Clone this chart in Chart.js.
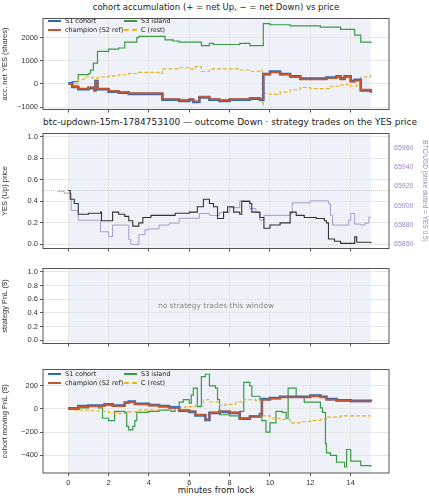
<!DOCTYPE html>
<html><head><meta charset="utf-8">
<script src="https://cdn.jsdelivr.net/npm/chart.js@4"></script>
<style>
body{margin:0;background:#fff;font-family:"DejaVu Sans",sans-serif;width:429px;height:500px;position:relative;overflow:hidden}
canvas{position:absolute;left:0}
.t{position:absolute;left:43px;width:346px;text-align:center;font-size:8.5px;color:#222;white-space:nowrap}
.lg{position:absolute;font-size:6.5px;color:#222;display:flex;align-items:center;white-space:nowrap}
.lg i{display:inline-block;width:13px;margin-right:4px;border-top:2px solid}
</style></head><body>
<div class="t" style="top:2px">cohort accumulation (+ = net Up, − = net Down) vs price</div>
<div class="t" style="top:117px;font-size:9px">btc-updown-15m-1784753100 — outcome Down · strategy trades on the YES price</div>
<div class="t" style="top:485px">minutes from lock</div>
<canvas id="c1" width="429" height="104" style="top:12px"></canvas>
<canvas id="c2" width="429" height="128" style="top:127px"></canvas>
<canvas id="c3" width="429" height="88" style="top:262px"></canvas>
<canvas id="c4" width="429" height="137" style="top:363px"></canvas>
<div id="legends"></div>
<script>
// panel 1: accumulated net YES shares
const accS3T = [0,0.2,0.5,1,1.1,1.25,1.45,2,2.5,2.8,3.4,3.5,4.8,5.2,5.5,6.6,7,7.2,8.5,9,9.67,10,11,12.5,13.5,14.2,14.5,15];
const accS3V = [0,100,400,450,600,900,1400,1500,1550,1800,2000,2050,1900,1850,1800,1650,1750,1700,1750,1650,2600,2550,2500,2450,2350,2100,1800,1750];
const accChT = [0,0.2,0.5,1,1.3,1.35,1.45,2,2.5,3,4.67,5.5,6,6.2,6.5,7,7.5,8,9,9.5,9.67,10,10.5,11,11.5,12.8,13.3,13.5,13.7,14,14.2,14.5,15];
const accChV = [0,-100,-200,-150,-250,100,-200,-300,-350,-400,-650,-700,-650,-750,-550,-650,-700,-650,-600,-650,400,500,400,300,200,250,300,200,300,100,150,-250,-350];
const accCT = [0,0.5,0.8,1.2,1.5,2,2.5,3,3.5,4.5,4.67,5.5,6,6.3,6.6,7,8.5,9,9.5,9.62,9.67,10,10.5,11,11.5,12,13,13.5,13.8,14,14.3,14.5,15];
const accCV = [0,200,300,250,300,350,400,450,500,450,650,700,650,750,550,650,600,550,600,-900,-400,-450,-350,-250,-150,-200,-100,-50,0,-100,-50,300,400];
// panel 2: YES price and BTC
const yesT = [0,0.1,0.3,0.5,1,1.6,1.65,2.2,2.5,2.8,3,3.2,3.5,3.7,4.1,5.3,6,6.4,6.7,7,7.2,7.4,7.7,7.9,8.2,8.5,8.6,9,9.1,9.5,9.7,10,10.5,11,11.3,11.7,12.3,12.7,12.8,12.9,13.2,13.5,14.2,14.3,15];
const yesV = [0.5,0.42,0.38,0.28,0.29,0.3,0.22,0.3,0.28,0.26,0.22,0.17,0.2,0.25,0.27,0.29,0.3,0.35,0.42,0.38,0.35,0.24,0.3,0.35,0.3,0.28,0.4,0.38,0.3,0.25,0.15,0.18,0.2,0.3,0.27,0.25,0.24,0.22,0.2,0.05,0.03,0.01,0.07,0.02,0.01];
const btcT = [-0.53,-0.2,0.15,0.5,1.6,2,2.2,3,3.1,3.5,3.8,4,4.5,5,5.5,6.5,7,7.5,8,8.5,9,9.3,9.5,9.7,11,11.1,12,12.9,13,13.1,13.9,14,14.2,14.5,14.7,14.9,15];
const btcV = [65915,65913,65895,65885,65873,65868,65880,65865,65860,65870,65875,65876,65880,65882,65887,65892,65890,65893,65898,65905,65897,65893,65885,65890,65892,65903,65905,65902,65890,65880,65885,65892,65881,65880,65882,65888,65888];
const strikeYes = 0.5;
// panel 4: cohort moving PnL
const pnlS3T = [0,0.5,1,1.4,1.5,1.7,2,2.2,2.3,2.8,2.9,3,3.2,3.3,3.4,4,4.5,5,5.1,5.3,5.5,5.7,6,6.1,6.2,6.4,6.6,6.8,7,7.3,7.4,7.5,8,8.5,8.7,9,9.1,9.5,9.6,9.8,10,10.3,10.6,10.8,10.9,11.3,11.7,12.5,12.6,12.75,12.8,13,13.3,13.7,13.8,14,14.5,15];
const pnlS3V = [0,10,20,30,10,-80,-100,-100,-20,-30,-150,-180,-150,-100,-30,-20,-10,-5,-20,20,60,80,50,120,180,20,280,300,200,180,80,-50,-60,-20,230,200,110,80,-100,-200,-120,-20,-30,-80,180,100,60,10,-30,-300,-380,-400,-460,-500,-350,-450,-490,-500];
const pnlChT = [0,0.5,1,1.8,2.2,2.8,3,3.3,4,4.5,5,5.5,6,6.3,6.8,7,7.5,8,8.5,9,9.5,9.6,10,10.5,12,12.5,12.8,13.3,14,15];
const pnlChV = [0,20,25,35,25,50,60,40,30,20,10,-10,-20,-50,-90,-30,-20,-30,-80,-60,-40,80,90,100,110,100,80,70,65,60];
const pnlCT = [0,0.3,1,1.5,2,2.5,3,3.5,4.5,5.3,5.8,6.3,6.7,7,7.5,7.8,8.3,8.7,9.3,9.6,10,10.5,11,11.5,12,12.5,12.8,13.5,15];
const pnlCV = [0,-10,-15,-20,-30,-40,-25,-10,-5,10,20,30,80,60,30,40,60,80,70,-60,-80,-90,-120,-110,-100,-90,-70,-60,-60];

const xTicks = [0,2,4,6,8,10,12,14];
const COL = {s1:'#2d6bb8', ch:'#c4552e', s3:'#3a9a48', c:'#e8b223', yes:'#333', btc:'#a99ccc'};
const pts = (t, v) => t.map((x, i) => ({x, y: v[i]}));
const off = (v, d) => v.map(y => y + (y < 0 ? -d : d));

const framePlugin = {
  id: 'frame',
  beforeDraw(ch) {
    const {ctx, chartArea: a, scales: {x}} = ch;
    ctx.save();
    ctx.fillStyle = '#eef1f8';
    const l = x.getPixelForValue(0), r = x.getPixelForValue(15);
    ctx.fillRect(l, a.top, r - l, a.bottom - a.top);
    ctx.restore();
  },
  afterDraw(ch) {
    const {ctx, chartArea: a} = ch;
    ctx.save();
    ctx.strokeStyle = '#555'; ctx.lineWidth = 1;
    ctx.strokeRect(a.left, a.top, a.right - a.left, a.bottom - a.top);
    const note = ch.options.plugins.note;
    if (note && note.text) {
      ctx.fillStyle = '#888'; ctx.font = '7.5px "DejaVu Sans"';
      ctx.textAlign = 'center'; ctx.textBaseline = 'middle';
      ctx.fillText(note.text, (a.left + a.right) / 2, (a.top + a.bottom) / 2);
    }
    ctx.restore();
  }
};

function fixed(vals) { return s => { s.ticks = vals.map(value => ({value})); }; }
const plain = v => String(v).replace('-', '−');

function makeChart(id, datasets, y, opts = {}) {
  const scales = {
    x: {type: 'linear', min: -1.25, max: 15.9,
      afterBuildTicks: fixed(xTicks),
      afterFit: s => { s.height = opts.xh || 4; },
      grid: {color: '#e6e6e6', tickLength: 3, tickColor: '#555'},
      border: {display: false},
      ticks: {display: !!opts.xLabels, color: '#333', font: {size: 7.5}, padding: 2, callback: plain}},
    y: Object.assign({position: 'left',
      afterFit: s => { s.width = 43; },
      grid: {color: '#e6e6e6', tickLength: 3, tickColor: '#555'},
      border: {display: false},
      title: {display: true, text: y.title, color: '#333', font: {size: 7.5}, padding: 0},
      ticks: {color: '#333', font: {size: 7.5}, padding: 2, callback: plain}}, y.opts)
  };
  if (opts.y2) scales.y2 = opts.y2;
  return new Chart(document.getElementById(id), {
    type: 'line',
    data: {datasets},
    options: {
      responsive: false, animation: false, devicePixelRatio: 1,
      layout: {padding: {top: 2, right: opts.y2 ? 0 : 40, left: 0, bottom: opts.pb || 0}},
      elements: {point: {radius: 0}, line: {stepped: true, tension: 0}},
      plugins: {legend: {display: false}, tooltip: {enabled: false}, note: {text: opts.note}},
      scales
    },
    plugins: [framePlugin]
  });
}

// first dataset is drawn on top
function cohortSets(s1, ch, s3, c) {
  return [
    {data: ch, borderColor: COL.ch, borderWidth: 1.8},
    {data: s1, borderColor: COL.s1, borderWidth: 2.6},
    {data: c, borderColor: COL.c, borderWidth: 1.1, borderDash: [4, 2]},
    {data: s3, borderColor: COL.s3, borderWidth: 1.2}
  ];
}

makeChart('c1', cohortSets(pts(accChT, off(accChV, 30)), pts(accChT, accChV), pts(accS3T, accS3V), pts(accCT, accCV)),
  {title: 'acc. net YES (shares)', opts: {min: -1100, max: 2820, afterBuildTicks: fixed([-1000, 0, 1000, 2000])}});

makeChart('c2', [
  {data: pts(yesT, yesV), borderColor: COL.yes, borderWidth: 1.1, yAxisID: 'y'},
  {data: pts(btcT, btcV), borderColor: COL.btc, borderWidth: 1, yAxisID: 'y2'},
  {data: [{x: -1.25, y: strikeYes}, {x: 15.9, y: strikeYes}], borderColor: '#bbb', borderWidth: 0.8, borderDash: [1, 1], stepped: false, yAxisID: 'y'}
], {title: 'YES (Up) price', opts: {min: -0.038, max: 1.03, afterBuildTicks: fixed([0, 0.2, 0.4, 0.6, 0.8, 1.0]),
  ticks: {color: '#333', font: {size: 7.5}, padding: 2, callback: v => v.toFixed(1)}}},
  {y2: {position: 'right', min: 65855.7, max: 65974.8,
    afterBuildTicks: fixed([65860, 65880, 65900, 65920, 65940, 65960]),
    afterFit: s => { s.width = 40; },
    grid: {display: false, drawTicks: true, tickLength: 3},
    border: {display: false},
    title: {display: true, text: 'BTC/USD (strike dotted = YES 0.5)', color: '#9b88c0', font: {size: 6.5}, padding: 0},
    ticks: {color: '#9b88c0', font: {size: 7}, padding: 2, callback: v => String(v)}}});

makeChart('c3', [], {title: 'strategy PnL ($)', opts: {min: -0.05, max: 1.05, afterBuildTicks: fixed([0, 0.2, 0.4, 0.6, 0.8, 1.0]),
  ticks: {color: '#333', font: {size: 7.5}, padding: 2, callback: v => v.toFixed(1)}}},
  {note: 'no strategy trades this window'});

makeChart('c4', cohortSets(pts(pnlChT, off(pnlChV, 5)), pts(pnlChT, pnlChV), pts(pnlS3T, pnlS3V), pts(pnlCT, pnlCV)),
  {title: 'cohort moving PnL ($)', opts: {min: -553, max: 341, afterBuildTicks: fixed([-400, -200, 0, 200])}},
  {xLabels: true, xh: 27});

// legends
const legendItems = [['S1 cohort', COL.s1, 'solid'], ['champion (S2 ref)', COL.ch, 'solid'], ['S3 island', COL.s3, 'solid'], ['C (rest)', COL.c, 'dashed']];
const lg = document.getElementById('legends');
[17, 370].forEach(top => {
  legendItems.forEach(([name, col, style], i) => {
    const d = document.createElement('div');
    d.className = 'lg';
    d.style.left = (i < 2 ? 48 : 124) + 'px';
    d.style.top = (top + (i % 2) * 9) + 'px';
    d.innerHTML = `<i style="border-top-color:${col};border-top-style:${style}"></i>${name}`;
    lg.appendChild(d);
  });
});
</script>
</body></html>
